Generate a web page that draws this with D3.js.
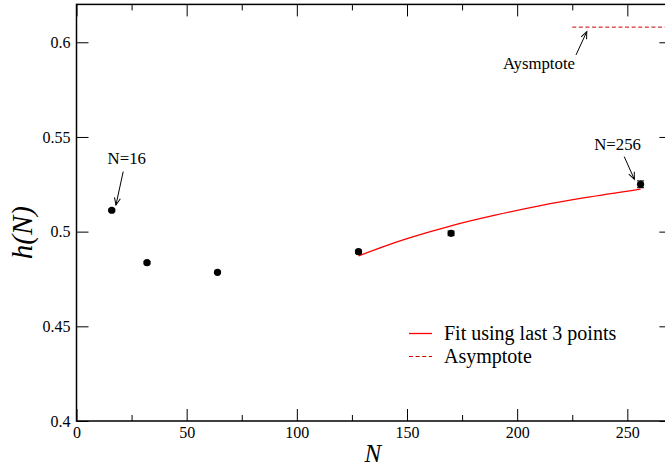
<!DOCTYPE html>
<html>
<head>
<meta charset="utf-8">
<script src="https://cdn.jsdelivr.net/npm/d3@7"></script>
<style>
  html, body { margin: 0; padding: 0; background: #fff; }
  svg { display: block; }
  text { font-family: "Liberation Serif", "Times New Roman", Times, serif; }
</style>
</head>
<body>
<svg id="chart" width="665" height="468"></svg>
<script>
// ---- data ----
const Nvals = [16, 32, 64, 128, 170, 256];
const hVals = [0.5113, 0.4836, 0.4785, 0.4894, 0.4991, 0.5250];
const hErr  = [0.0006, 0.0006, 0.0006, 0.0008, 0.0012, 0.0018];

const fitN = [128, 140, 150, 170, 190, 210, 230, 256];
const fitH = [0.4872, 0.4924, 0.4963, 0.5031, 0.5087, 0.5136, 0.5178, 0.5225];

const asymptoteH = 0.608;
const asymptoteN = [225, 270];

const xTicks = [0, 50, 100, 150, 200, 250];
const xMinorTicks = [25, 75, 125, 175, 225];
const yTicks = [0.4, 0.45, 0.5, 0.55, 0.6];
const yTickLabels = ["0.4", "0.45", "0.5", "0.55", "0.6"];

const legendLabels = ["Fit using last 3 points", "Asymptote"];

// annotation texts with data-space anchors
const annTexts = ["N=16", "N=256", "Aysmptote"];
const annTextN = [22.8, 245.6, 209.9];
const annTextH = [0.5356, 0.5431, 0.5857];
const annArrowFromN = [21.2, 248.6, 226.7];
const annArrowFromH = [0.5317, 0.5396, 0.5933];
const annArrowToN = [17.9, 253.2, 231.6];
const annArrowToH = [0.5141, 0.5276, 0.6056];

// ---- layout ----
const svg = d3.select("#chart");
const x = d3.scaleLinear().domain([0, 270]).range([76.5, 671.4]);
const y = d3.scaleLinear().domain([0.4, 0.62]).range([421, 4.4]);

const FF = "Liberation Serif, Times New Roman, Times, serif";
const font = 16;

// defs: arrowhead
svg.append("defs").append("marker")
  .attr("id", "arrow")
  .attr("viewBox", "-8 -4 10 8")
  .attr("markerUnits", "userSpaceOnUse")
  .attr("markerWidth", 10).attr("markerHeight", 8)
  .attr("refX", 0).attr("refY", 0)
  .attr("orient", "auto")
  .append("path")
  .attr("d", "M-7,-3 L0,0 L-7,3")
  .attr("fill", "none").attr("stroke", "#000").attr("stroke-width", 1);

// axes (ticks inward)
function styleAxis(g) {
  g.attr("font-family", FF);
  g.select(".domain").remove();
  g.selectAll(".tick line").attr("stroke", "#000").attr("stroke-width", 1);
  g.selectAll("text").attr("font-family", FF).attr("font-size", font).attr("fill", "#000");
}

svg.append("g").attr("transform", `translate(0,${y(0.4)})`)
  .call(d3.axisBottom(x).tickValues(xTicks).tickSizeInner(-12).tickSizeOuter(0).tickPadding(6).tickFormat(d3.format("d")))
  .call(styleAxis);
svg.append("g").attr("transform", `translate(0,${y(0.4)})`)
  .call(d3.axisBottom(x).tickValues(xMinorTicks).tickSizeInner(-6).tickSizeOuter(0).tickFormat(""))
  .call(styleAxis);
svg.append("g").attr("transform", `translate(0,${y(0.62)})`)
  .call(d3.axisTop(x).tickValues(xTicks).tickSizeInner(-12).tickSizeOuter(0).tickFormat(""))
  .call(styleAxis);
svg.append("g").attr("transform", `translate(0,${y(0.62)})`)
  .call(d3.axisTop(x).tickValues(xMinorTicks).tickSizeInner(-6).tickSizeOuter(0).tickFormat(""))
  .call(styleAxis);
svg.append("g").attr("transform", `translate(${x(0)},0)`)
  .call(d3.axisLeft(y).tickValues(yTicks).tickSizeInner(-12).tickSizeOuter(0).tickPadding(6)
    .tickFormat((d, i) => yTickLabels[i]))
  .call(styleAxis);
svg.append("g").attr("transform", `translate(${x(270)},0)`)
  .call(d3.axisRight(y).tickValues(yTicks).tickSizeInner(-12).tickSizeOuter(0).tickFormat(""))
  .call(styleAxis);

// frame
svg.append("rect")
  .attr("x", x(0)).attr("y", y(0.62))
  .attr("width", x(270) - x(0)).attr("height", y(0.4) - y(0.62))
  .attr("fill", "none").attr("stroke", "#000").attr("stroke-width", 1.5);

// axis titles
svg.append("text")
  .attr("x", x(135) - 1).attr("y", 462)
  .attr("text-anchor", "middle")
  .attr("font-size", 25).attr("font-style", "italic")
  .text("N");
svg.append("text")
  .attr("transform", `translate(32,${y(0.5) + 1}) rotate(-90)`)
  .attr("text-anchor", "middle")
  .attr("font-size", 29).attr("font-style", "italic")
  .text("h(N)");

// fit curve
const fitData = fitN.map((n, i) => [n, fitH[i]]);
svg.append("path")
  .datum(fitData)
  .attr("d", d3.line().x(d => x(d[0])).y(d => y(d[1])).curve(d3.curveMonotoneX))
  .attr("fill", "none").attr("stroke", "#ff0000").attr("stroke-width", 1.3);

// asymptote
svg.append("line")
  .attr("x1", x(asymptoteN[0])).attr("x2", x(asymptoteN[1]))
  .attr("y1", y(asymptoteH)).attr("y2", y(asymptoteH))
  .attr("stroke", "#cc0000").attr("stroke-width", 1).attr("stroke-dasharray", "4,2.6");

// error bars
const pts = Nvals.map((n, i) => ({ n, h: hVals[i], e: hErr[i] }));
const eb = svg.append("g");
pts.forEach(p => {
  eb.append("line").attr("x1", x(p.n)).attr("x2", x(p.n))
    .attr("y1", y(p.h - p.e)).attr("y2", y(p.h + p.e)).attr("stroke", "#000");
  [p.h - p.e, p.h + p.e].forEach(v => {
    eb.append("line").attr("x1", x(p.n) - 3.5).attr("x2", x(p.n) + 3.5)
      .attr("y1", y(v)).attr("y2", y(v)).attr("stroke", "#000");
  });
});

// points
svg.append("g").selectAll("circle").data(pts).join("circle")
  .attr("cx", d => x(d.n)).attr("cy", d => y(d.h)).attr("r", 3.6)
  .attr("fill", "#000");

// annotations
annTexts.forEach((t, i) => {
  svg.append("text")
    .attr("x", x(annTextN[i])).attr("y", y(annTextH[i]))
    .attr("text-anchor", "middle").attr("font-size", 16.8)
    .text(t);
  svg.append("line")
    .attr("x1", x(annArrowFromN[i])).attr("y1", y(annArrowFromH[i]))
    .attr("x2", x(annArrowToN[i])).attr("y2", y(annArrowToH[i]))
    .attr("stroke", "#000").attr("stroke-width", 1)
    .attr("marker-end", "url(#arrow)");
});

// legend
const lg = svg.append("g");
lg.append("line").attr("x1", 409).attr("x2", 432).attr("y1", 333.5).attr("y2", 333.5)
  .attr("stroke", "#ff0000").attr("stroke-width", 1.3);
lg.append("text").attr("x", 444).attr("y", 340).attr("font-size", 20).text(legendLabels[0]);
lg.append("line").attr("x1", 409).attr("x2", 432).attr("y1", 356.5).attr("y2", 356.5)
  .attr("stroke", "#cc0000").attr("stroke-width", 1).attr("stroke-dasharray", "4,2.6");
lg.append("text").attr("x", 444).attr("y", 363).attr("font-size", 20).text(legendLabels[1]);
</script>
</body>
</html>
